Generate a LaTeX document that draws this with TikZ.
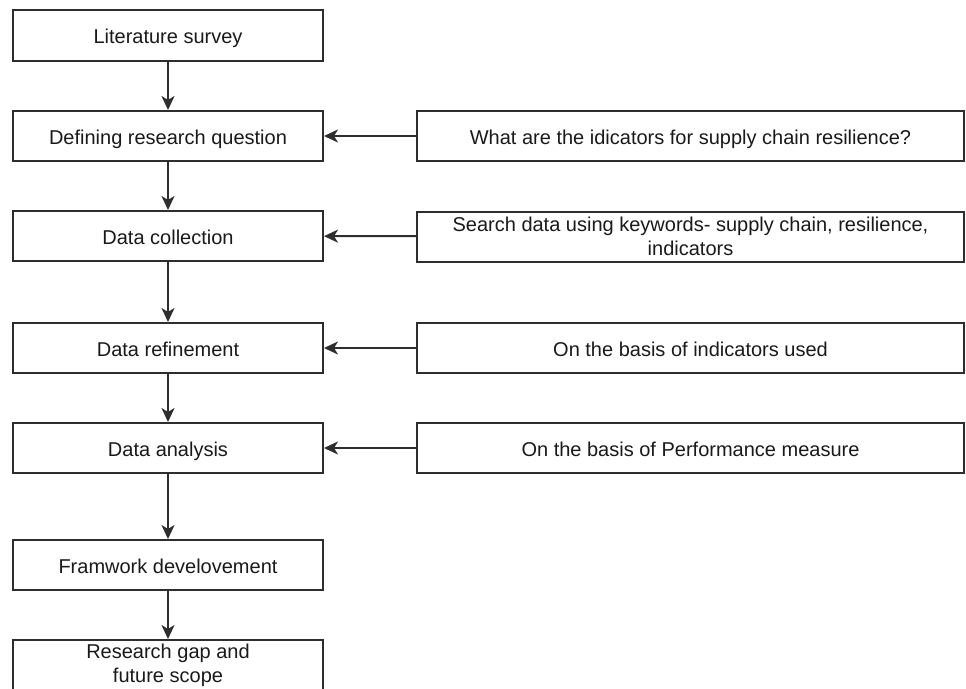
\documentclass[tikz,border=0pt]{standalone}
\usepackage{fontspec}
\setmainfont{Liberation Sans}
\usetikzlibrary{arrows.meta}
\definecolor{edge}{HTML}{2E2E2E}
\definecolor{ink}{HTML}{1A1A1A}
\begin{document}
\begin{tikzpicture}[x=1pt,y=-1pt,
  box/.style={draw=edge,line width=2pt,rectangle,inner sep=0pt,align=center,
    text=ink,font=\fontsize{20pt}{24pt}\selectfont},
  oneline/.style={text height=18pt,text depth=1.6pt},
  leftbox/.style={box,minimum width=310pt,minimum height=50pt},
  rightbox/.style={box,minimum width=547pt,minimum height=50pt},
  conn/.style={draw=edge,line width=2pt,-{Stealth[length=14pt,width=13pt,inset=4pt]}}]
\useasboundingbox[fill=white] (0,0) rectangle (966,688);
\node[leftbox,oneline,minimum height=51pt] (a) at (168,35.5) {Literature survey};
\node[leftbox,oneline] (b) at (168,136) {Defining research question};
\node[leftbox,oneline] (c) at (168,236) {Data collection};
\node[leftbox,oneline] (d) at (168,348) {Data refinement};
\node[leftbox,oneline] (e) at (168,448) {Data analysis};
\node[leftbox,oneline] (f) at (168,565) {Framwork develovement};
\node[leftbox] (g) at (168,665) {Research gap and\\future scope};
\node[rightbox,oneline] (rb) at (690.5,136) {What are the idicators for supply chain resilience?};
\node[rightbox] (rc) at (690.5,236.5) {Search data using keywords- supply chain, resilience,\\indicators};
\node[rightbox,oneline] (rd) at (690.5,348) {On the basis of indicators used};
\node[rightbox,oneline] (re) at (690.5,448) {On the basis of Performance measure};
\draw[conn] (a) -- (b);
\draw[conn] (b) -- (c);
\draw[conn] (c) -- (d);
\draw[conn] (d) -- (e);
\draw[conn] (e) -- (f);
\draw[conn] (f) -- (g);
\draw[conn] (rb) -- (b);
\draw[conn] (rc) -- (c);
\draw[conn] (rd) -- (d);
\draw[conn] (re) -- (e);
\end{tikzpicture}
\end{document}
